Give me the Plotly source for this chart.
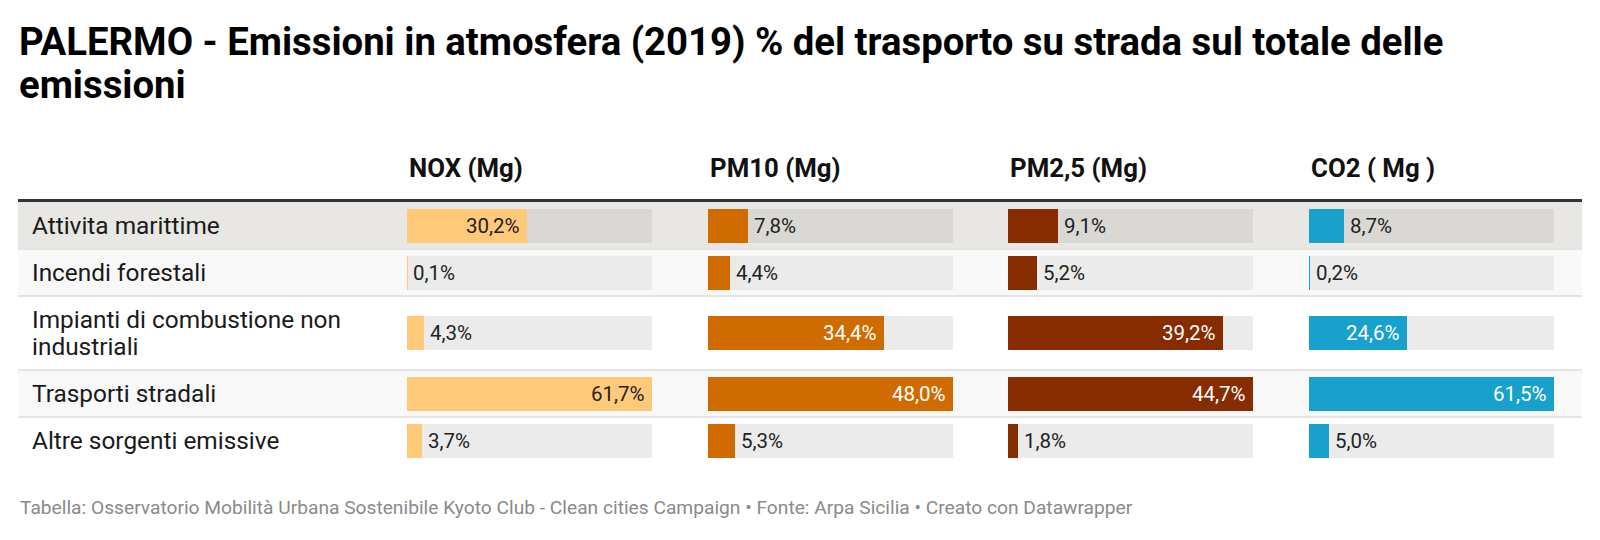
import plotly.graph_objects as go

categorie = [
    "Attivita marittime",
    "Incendi forestali",
    "Impianti di combustione non<br>industriali",
    "Trasporti stradali",
    "Altre sorgenti emissive",
]
colonne = ["NOX (Mg)", "PM10 (Mg)", "PM2,5 (Mg)", "CO2 ( Mg )"]
nox = [30.2, 0.1, 4.3, 61.7, 3.7]
pm10 = [7.8, 4.4, 34.4, 48.0, 5.3]
pm25 = [9.1, 5.2, 39.2, 44.7, 1.8]
co2 = [8.7, 0.2, 24.6, 61.5, 5.0]
serie = [nox, pm10, pm25, co2]
colori = ["#fec979", "#d06b00", "#862c00", "#18a1cd"]
testo_dentro = ["#222222", "#ffffff", "#ffffff", "#ffffff"]

titolo = ["PALERMO - Emissioni in atmosfera (2019) % del trasporto su strada sul totale delle",
          "emissioni"]
fonte = ("Tabella: Osservatorio Mobilità Urbana Sostenibile Kyoto Club - Clean cities Campaign"
         " • Fonte: Arpa Sicilia • Creato con Datawrapper")

W, H = 1600, 540
left, right = 18, 1582
col_x0 = [407, 708, 1008, 1309]
col_w = 245
row_edges = [202, 249, 296, 370, 417, 464]
row_mid = [(a + b) / 2 for a, b in zip(row_edges[:-1], row_edges[1:])]
bar_h = 34
FONT = "Roboto"

fig = go.Figure()
shapes = []
annotations = []


def px(x):
    return x / W


# sfondi righe e separatori
row_bg = ["#e8e7e3", "#f8f8f8", "#ffffff", "#f8f8f8", "#ffffff"]
for i in range(5):
    shapes.append(dict(type="rect", xref="paper", yref="y", x0=px(left), x1=px(right),
                       y0=row_edges[i], y1=row_edges[i + 1],
                       fillcolor=row_bg[i], line_width=0, layer="below"))
    if i > 0:
        shapes.append(dict(type="line", xref="paper", yref="y", x0=px(left), x1=px(right),
                           y0=row_edges[i], y1=row_edges[i],
                           line=dict(color="#e4e4e4", width=2), layer="below"))
shapes.append(dict(type="line", xref="paper", yref="y", x0=px(left), x1=px(right),
                   y0=200.5, y1=200.5, line=dict(color="#333333", width=3)))

track_col = ["#d9d8d4", "#ebebeb", "#ebebeb", "#ebebeb", "#ebebeb"]
layout_axes = {}
for k, vals in enumerate(serie):
    ax = "x" if k == 0 else f"x{k + 1}"
    vmax = max(vals)
    fig.add_trace(go.Bar(x=[vmax] * 5, y=row_mid, orientation="h", width=bar_h,
                         marker=dict(color=track_col, line_width=0), xaxis=ax, yaxis="y",
                         hoverinfo="skip", showlegend=False))
    fig.add_trace(go.Bar(x=vals, y=row_mid, orientation="h", width=bar_h,
                         marker=dict(color=colori[k], line_width=0), xaxis=ax, yaxis="y",
                         name=colonne[k], showlegend=False))
    layout_axes["xaxis" if k == 0 else f"xaxis{k + 1}"] = dict(
        domain=[px(col_x0[k]), px(col_x0[k] + col_w)], range=[0, vmax],
        visible=False, fixedrange=True, anchor="y")
    annotations.append(dict(xref="paper", yref="y", x=px(col_x0[k]), y=168, xanchor="left",
                            yanchor="middle", text=f"<b>{colonne[k]}</b>", showarrow=False,
                            font=dict(family=FONT, size=25.8, color="#111111")))
    for i, v in enumerate(vals):
        lab = f"{v:.1f}%".replace(".", ",")
        dentro = v / vmax * col_w > 75
        annotations.append(dict(xref=ax, yref="y", x=v, y=row_mid[i],
                                xanchor="right" if dentro else "left",
                                xshift=-5 if dentro else 4, yanchor="middle",
                                text=lab, showarrow=False,
                                font=dict(family=FONT, size=20.5,
                                          color=testo_dentro[k] if dentro else "#222222")))

for i, c in enumerate(categorie):
    righe = c.split("<br>")
    passo = 27
    y0 = row_mid[i] - passo * (len(righe) - 1) / 2
    for j, r in enumerate(righe):
        annotations.append(dict(xref="paper", yref="y", x=px(30), y=y0 + j * passo,
                                xanchor="left", yanchor="middle", text=r, showarrow=False,
                                font=dict(family=FONT, size=24.4, color="#1a1a1a")))

for j, t in enumerate(titolo):
    annotations.append(dict(xref="paper", yref="y", x=px(17), y=41 + j * 43, xanchor="left",
                            yanchor="middle", showarrow=False, text=f"<b>{t}</b>",
                            font=dict(family=FONT, size=38.3, color="#000000")))
annotations.append(dict(xref="paper", yref="y", x=px(18), y=507, xanchor="left", yanchor="middle",
                        showarrow=False, text=fonte,
                        font=dict(family=FONT, size=19.2, color="#8a8a8a")))

fig.update_layout(
    width=W, height=H, margin=dict(l=0, r=0, t=0, b=0),
    paper_bgcolor="white", plot_bgcolor="rgba(0,0,0,0)", barmode="overlay", bargap=0,
    yaxis=dict(range=[H, 0], domain=[0, 1], visible=False, fixedrange=True),
    shapes=shapes, annotations=annotations,
    **layout_axes,
)
fig.write_html("out.html", config={"displayModeBar": False},
               post_script="document.body.style.margin='0';")
